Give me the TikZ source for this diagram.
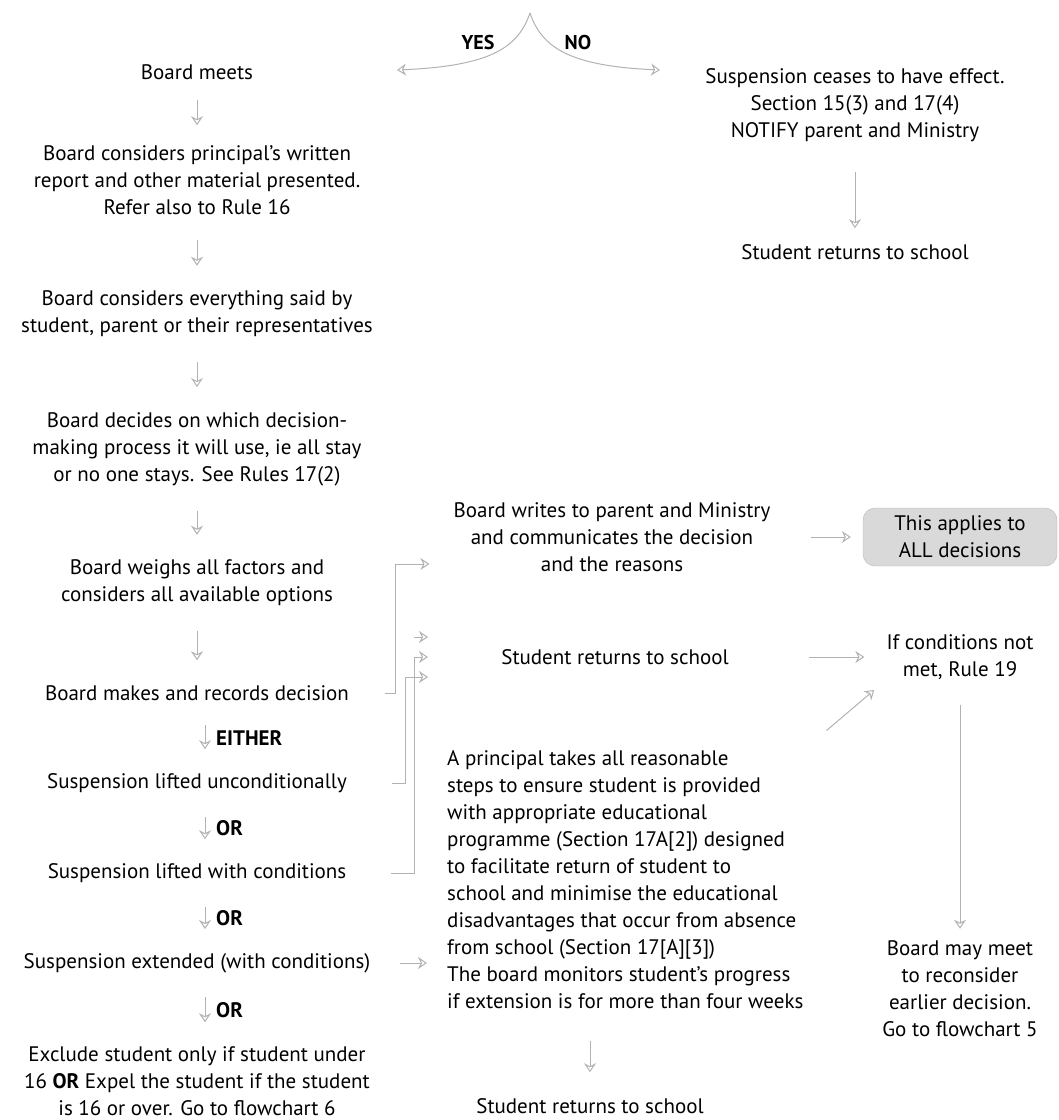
\documentclass[tikz,border=0pt]{standalone}
\usepackage{fontspec}
\setmainfont{PT Sans}
\usetikzlibrary{arrows.meta,positioning}

\tikzset{
  txt/.style={inner sep=0pt, align=center, font=\fontsize{21}{27}\selectfont},
  lbl/.style={inner sep=0pt, anchor=west, font=\fontsize{21}{27}\selectfont\bfseries},
  arr/.style={draw=gray!60, line width=1pt, -{Stealth[open,length=9pt,width=12pt]}},
  down/.style={arr, shorten <=#1, shorten >=#1},
  down/.default=24pt,
  allbox/.style={draw=gray!55, fill=gray!30, rounded corners=12pt, inner sep=0pt,
                 minimum width=194pt, minimum height=58pt, align=center,
                 font=\fontsize{21}{27}\selectfont}
}

\begin{document}
\begin{tikzpicture}[x=1pt,y=-1pt]
\useasboundingbox (0,0) rectangle (1059,1120);

% left column
\node[txt] (meets)    at (197,72)   {Board meets};
\node[txt] (report)   at (197,180)  {Board considers principal's written\\report and other material presented.\\Refer also to Rule 16};
\node[txt] (said)     at (197,314)  {Board considers everything said by\\student, parent or their representatives};
\node[txt] (process)  at (197,449)  {Board decides on which decision-\\making process it will use, ie all stay\\or no one stays. See Rules 17(2)};
\node[txt] (weigh)    at (197,583)  {Board weighs all factors and\\considers all available options};
\node[txt] (decide)   at (197,693)  {Board makes and records decision};
\node[txt] (uncond)   at (197,783)  {Suspension lifted unconditionally};
\node[txt] (withcond) at (197,873)  {Suspension lifted with conditions};
\node[txt] (extend)   at (197,963)  {Suspension extended (with conditions)};
\node[txt] (exclude)  at (197,1081) {Exclude student only if student under\\16 \textbf{OR} Expel the student if the student\\is 16 or over. Go to flowchart 6};

\node[lbl] (either) at (216,738)  {EITHER};
\node[lbl] (or1)    at (216,828)  {OR};
\node[lbl] (or2)    at (216,918)  {OR};
\node[lbl] (or3)    at (216,1010) {OR};

% yes / no
\coordinate (peak)   at (530,13);
\coordinate (yestip) at (397,70);
\coordinate (notip)  at (660,70);
\node[lbl,anchor=center,font=\fontsize{20}{24}\selectfont\bfseries] (yes) at (478,42) {YES};
\node[lbl,anchor=center,font=\fontsize{20}{24}\selectfont\bfseries] (no)  at (578,42) {NO};
\draw[arr] (peak) .. controls (518,48) and (490,66) .. (yestip);
\draw[arr] (peak) .. controls (542,48) and (570,66) .. (notip);

% right column
\node[txt] (ceases)    at (855,105)  {Suspension ceases to have effect.\\Section 15(3) and 17(4)\\NOTIFY parent and Ministry};
\node[txt] (topreturn) at (855,252)  {Student returns to school};
\node[txt] (writes)    at (612,537)  {Board writes to parent and Ministry\\and communicates the decision\\and the reasons};
\node[allbox] (applies) at (960,537) {This applies to\\ALL decisions};
\node[txt] (midreturn) at (615,657)  {Student returns to school};
\node[txt] (cond19)    at (960,657)  {If conditions not\\met, Rule 19};
\node[txt, align=left, anchor=north west] (para) at (447,750)
  {A principal takes all reasonable\\steps to ensure student is provided\\with appropriate educational\\programme (Section 17A[2]) designed\\to facilitate return of student to\\school and minimise the educational\\disadvantages that occur from absence\\from school (Section 17[A][3])\\The board monitors student's progress\\if extension is for more than four weeks};
\node[txt] (meet5)     at (960,989)  {Board may meet\\to reconsider\\earlier decision.\\Go to flowchart 5};
\node[txt] (botreturn) at (590,1106) {Student returns to school};

% brackets
\coordinate (busA) at (395,0);
\coordinate (busB) at (405,0);
\coordinate (busC) at (414,0);
\draw[arr, shorten <=36pt, shorten >=24pt] (decide.east) -- (decide.east -| busA) -- ([yshift=-27pt]busA |- writes) -- ([yshift=-27pt]writes.west);
\draw[arr, shorten <=45pt] (uncond.east) -- (uncond.east -| busB) -- ([yshift=-20pt]busB |- midreturn) -- ++(23,0);
\draw[arr, shorten <=45pt] (withcond.east) -- (withcond.east -| busC) -- (busC |- midreturn) -- ++(14,0);
\draw[arr] ([yshift=20pt]busC |- midreturn) -- ++(14,0);

% flow arrows
\draw[down=20pt] (meets) -- (report);
\draw[down=25pt] (report) -- (said);
\draw[down=25pt] (said) -- (process);
\draw[down=25pt] (process) -- (weigh);
\draw[down=25pt] (weigh) -- (decide);
\draw[down] ([xshift=8pt]decide.south) -- ([xshift=8pt]uncond.north);
\draw[down] ([xshift=8pt]uncond.south) -- ([xshift=8pt]withcond.north);
\draw[down] ([xshift=8pt]withcond.south) -- ([xshift=8pt]extend.north);
\draw[down] ([xshift=8pt]extend.south) -- ([xshift=8pt]exclude.north);
\draw[arr, shorten <=30pt, shorten >=16pt] (ceases) -- (topreturn);
\draw[arr, shorten <=40pt, shorten >=12pt] (writes.east) -- (applies.west);
\draw[arr, shorten <=80pt, shorten >=22pt] (midreturn.east) -- (cond19.west);
\draw[arr, shorten <=30pt, shorten >=16pt] (para.north east) -- (cond19.south west);
\draw[arr, shorten <=25pt, shorten >=12pt] (cond19) -- (meet5);
\draw[arr, shorten <=30pt, shorten >=20pt] (extend.east) -- (extend.east -| para.west);
\draw[arr, shorten <=32pt, shorten >=26pt] (para.south -| botreturn) -- (botreturn.north);
\end{tikzpicture}
\end{document}
